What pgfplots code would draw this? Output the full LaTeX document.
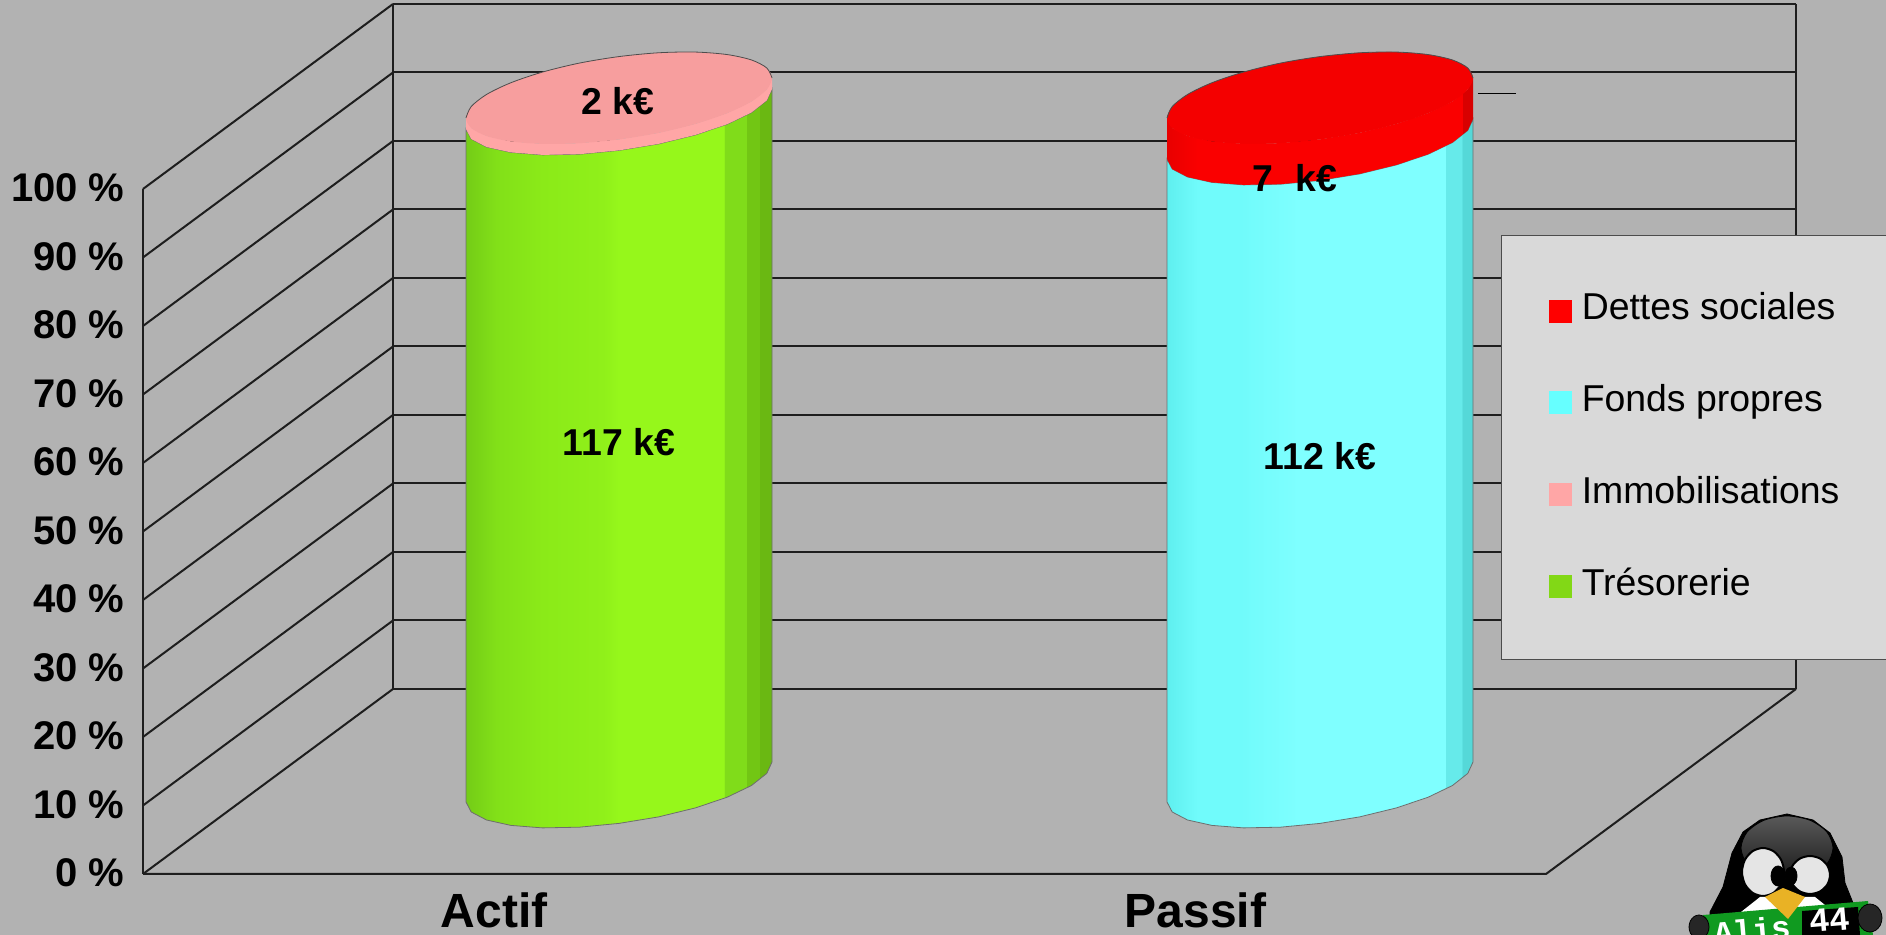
\documentclass[border=0pt]{standalone}
\usepackage{fontspec}
\setmainfont{Liberation Sans}
\setmonofont{Liberation Mono}
\usepackage{pgfplots}
\usepackage{pgfplotstable}
\pgfplotsset{compat=1.18}

\definecolor{bg}{HTML}{B2B2B2}
\definecolor{gridc}{HTML}{1E1E1E}
\definecolor{legbg}{HTML}{D9D9D9}
\definecolor{edgec}{HTML}{6E6E6E}
\definecolor{pinkside}{HTML}{FFA6A6}
\definecolor{pinktop}{HTML}{F79E9E}
\definecolor{redtop}{HTML}{F40000}
\definecolor{bakc}{HTML}{E9B225}
\definecolor{banc}{HTML}{109A20}
\definecolor{legred}{HTML}{FF0000}
\definecolor{legcyan}{HTML}{66FFFF}
\definecolor{leggreen}{HTML}{82D816}

\definecolor{ga}{HTML}{74CC17}
\definecolor{gb}{HTML}{82E018}
\definecolor{gc}{HTML}{8BEA18}
\definecolor{gd}{HTML}{90F01A}
\definecolor{ge}{HTML}{96F71B}
\definecolor{gf}{HTML}{80DC1A}
\definecolor{gg}{HTML}{72C614}
\definecolor{gh}{HTML}{6AB812}
\pgfdeclarehorizontalshading{greenbody}{100bp}{color(0bp)=(ga); color(25bp)=(ga); color(30bp)=(gb); color(37.5bp)=(gc); color(47.5bp)=(gd); color(50bp)=(ge); color(67.2bp)=(ge); color(67.2bp)=(gf); color(70.8bp)=(gf); color(70.8bp)=(gg); color(73bp)=(gg); color(73bp)=(gh); color(100bp)=(gh)}

\definecolor{ca}{HTML}{5FEFEF}
\definecolor{cb}{HTML}{70FBFB}
\definecolor{cc}{HTML}{7FFFFF}
\definecolor{cd}{HTML}{66EAEA}
\definecolor{ce}{HTML}{55D8D8}
\pgfdeclarehorizontalshading{cyanbody}{100bp}{color(0bp)=(ca); color(25bp)=(ca); color(30bp)=(cb); color(37bp)=(cb); color(47bp)=(cc); color(70.5bp)=(cc); color(70.5bp)=(cd); color(73.2bp)=(cd); color(73.2bp)=(ce); color(100bp)=(ce)}

\definecolor{ra}{HTML}{E80000}
\definecolor{rb}{HTML}{FA0000}
\definecolor{rc}{HTML}{D80000}
\pgfdeclarehorizontalshading{redbody}{100bp}{color(0bp)=(ra); color(25bp)=(ra); color(30bp)=(rb); color(73.2bp)=(rb); color(73.2bp)=(rc); color(100bp)=(rc)}

% front half of a cylinder: lower edge (lvl 0), then upper edge (lvl 1), pixel offsets
\pgfplotstableread{
ex ey lvl
153.0 -20.0 0
147.8 -8.6 0
132.5 3.5 0
108.2 15.2 0
76.5 25.9 0
39.6 34.9 0
0 41.4 0
-39.6 45.2 0
-76.5 45.9 0
-108.2 43.4 0
-132.5 38.0 0
-147.8 30.0 0
-153.0 20.0 0
-153.0 20.0 1
-147.8 30.0 1
-132.5 38.0 1
-108.2 43.4 1
-76.5 45.9 1
-39.6 45.2 1
0 41.4 1
39.6 34.9 1
76.5 25.9 1
108.2 15.2 1
132.5 3.5 1
147.8 -8.6 1
153.0 -20.0 1
}\cylside

% top surface of a cylinder
\pgfplotstableread{
ex ey
153.0 -20.0
147.8 -8.6
132.5 3.5
108.2 15.2
76.5 25.9
39.6 34.9
0 41.4
-39.6 45.2
-76.5 45.9
-108.2 43.4
-132.5 38.0
-147.8 30.0
-153.0 20.0
-147.8 8.6
-132.5 -3.5
-108.2 -15.2
-76.5 -25.9
-39.6 -34.9
0 -41.4
39.6 -45.2
76.5 -45.9
108.2 -43.4
132.5 -38.0
147.8 -30.0
}\cyltop

% back rim of the top surface
\pgfplotstableread{
ex ey
-153.0 20.0
-147.8 8.6
-132.5 -3.5
-108.2 -15.2
-76.5 -25.9
-39.6 -34.9
0 -41.4
39.6 -45.2
76.5 -45.9
108.2 -43.4
132.5 -38.0
147.8 -30.0
153.0 -20.0
}\cylrim

\pgfplotstableread{
ux uy
1 0
.866 .5
.5 .866
0 1
-.5 .866
-.866 .5
-1 0
-.866 -.5
-.5 -.866
0 -1
.5 -.866
.866 -.5
}\unitcircle

% x centre, lower y, upper y, style
\newcommand{\cylbody}[4]{\addplot[#4] table[x expr=#1+\thisrow{ex}, y expr=#2+(#3-#2)*\thisrow{lvl}+\thisrow{ey}] {\cylside} -- cycle;}
\newcommand{\cylcap}[3]{%
  \addplot[smooth cycle, #3, draw=none] table[x expr=#1+\thisrow{ex}, y expr=#2+\thisrow{ey}] {\cyltop};
  \addplot[smooth, draw=edgec!70!black, line width=0.4pt] table[x expr=#1+\thisrow{ex}, y expr=#2+\thisrow{ey}] {\cylrim};}
% logo blobs: cx, cy, rx, ry, style
\newcommand{\blob}[5]{\addplot[smooth cycle, #5] table[x expr=#1+#3*\thisrow{ux}, y expr=#2+#4*\thisrow{uy}] {\unitcircle};}

\begin{document}
\begin{tikzpicture}
\begin{axis}[
  scale only axis,
  width=943pt, height=467.5pt,
  xmin=0, xmax=1886,
  ymin=-8.905, ymax=127.59,
  y filter/.expression={(874-y)/6.85},
  axis background/.style={fill=bg},
  axis line style={draw=none},
  major tick length=0pt,
  tick style={draw=none},
  ytick={0,10,...,100},
  yticklabels={0 \%,10 \%,20 \%,30 \%,40 \%,50 \%,60 \%,70 \%,80 \%,90 \%,100 \%},
  y tick label style={font=\fontsize{20}{24}\bfseries\selectfont, anchor=east, xshift=62.5pt, yshift=0.6pt, inner xsep=0pt},
  xtick={494,1195.5},
  xticklabels={Actif,Passif},
  x tick label style={font=\fontsize{24}{28}\bfseries\selectfont, anchor=base, yshift=3.7pt, inner sep=0pt},
  every axis plot/.append style={forget plot},
  legend style={
    at={(axis cs:1501,93.3)}, anchor=north west,
    draw=black!70, fill=legbg, line width=0.6pt,
    minimum width=192.5pt, minimum height=212pt,
    font=\fontsize{18.7}{22}\selectfont,
    row sep=27.9pt, column sep=5pt, inner sep=0pt,
    nodes={draw=none, inner sep=0pt, minimum width=0pt, minimum height=0pt, text height=14pt, text depth=4pt},
  },
  legend cell align=left,
  legend image code/.code={\fill[#1, draw=none] (0pt,-6.4pt) rectangle (11.5pt,5.1pt);},
]
\addlegendimage{fill=legred}
\addlegendentry{Dettes sociales}
\addlegendimage{fill=legcyan}
\addlegendentry{Fonds propres}
\addlegendimage{fill=pinkside}
\addlegendentry{Immobilisations}
\addlegendimage{fill=leggreen}
\addlegendentry{Trésorerie}

\coordinate (pagesw) at (rel axis cs:0,0);
\coordinate (pagene) at (rel axis cs:1,1);

% back wall
\addplot[gridc, line width=1pt] coordinates {(393,689)(1796,689)};
\addplot[gridc, line width=1pt] coordinates {(393,620.5)(1796,620.5)};
\addplot[gridc, line width=1pt] coordinates {(393,552)(1796,552)};
\addplot[gridc, line width=1pt] coordinates {(393,483.5)(1796,483.5)};
\addplot[gridc, line width=1pt] coordinates {(393,415)(1796,415)};
\addplot[gridc, line width=1pt] coordinates {(393,346.5)(1796,346.5)};
\addplot[gridc, line width=1pt] coordinates {(393,278)(1796,278)};
\addplot[gridc, line width=1pt] coordinates {(393,209.5)(1796,209.5)};
\addplot[gridc, line width=1pt] coordinates {(393,141)(1796,141)};
\addplot[gridc, line width=1pt] coordinates {(393,72.5)(1796,72.5)};
\addplot[gridc, line width=1pt] coordinates {(393,4)(1796,4)};
% side wall
\addplot[gridc, line width=1pt] coordinates {(143,874)(393,689)};
\addplot[gridc, line width=1pt] coordinates {(143,805.5)(393,620.5)};
\addplot[gridc, line width=1pt] coordinates {(143,737)(393,552)};
\addplot[gridc, line width=1pt] coordinates {(143,668.5)(393,483.5)};
\addplot[gridc, line width=1pt] coordinates {(143,600)(393,415)};
\addplot[gridc, line width=1pt] coordinates {(143,531.5)(393,346.5)};
\addplot[gridc, line width=1pt] coordinates {(143,463)(393,278)};
\addplot[gridc, line width=1pt] coordinates {(143,394.5)(393,209.5)};
\addplot[gridc, line width=1pt] coordinates {(143,326)(393,141)};
\addplot[gridc, line width=1pt] coordinates {(143,257.5)(393,72.5)};
\addplot[gridc, line width=1pt] coordinates {(143,189)(393,4)};
% verticals and floor
\addplot[gridc, line width=1.3pt] coordinates {(143,189)(143,874)};
\addplot[gridc, line width=1.3pt] coordinates {(393,4)(393,689)};
\addplot[gridc, line width=1.3pt] coordinates {(1796,4)(1796,689)};
\addplot[gridc, line width=1pt] coordinates {(143,874)(1546,874)(1796,689)};

% Actif: 117 + 2
\cylbody{619}{782}{109}{shade, shading=greenbody, draw=edgec, line width=0.4pt}
\cylbody{619}{109}{98}{fill=pinkside, draw=none}
\cylcap{619}{98}{fill=pinktop}
% Passif: 112 + 7
\cylbody{1320}{782}{139}{shade, shading=cyanbody, draw=edgec, line width=0.4pt}
\cylbody{1320}{139}{98}{shade, shading=redbody, draw=none}
\cylcap{1320}{98}{fill=redtop}
\addplot[black, line width=0.5pt] coordinates {(1478,94)(1516,94)};

% value labels
\addplot[draw=none, no marks, nodes near coords, point meta=explicit symbolic,
  every node near coord/.append style={anchor=center, inner sep=0pt, font=\fontsize{18.7}{22}\bfseries\selectfont}]
  coordinates {(618,101)[2 k€] (619,442)[117 k€] (1295,178)[7\hspace{11pt}k€] (1320,456)[112 k€]};

% logo
\addplot[fill=black, draw=black] coordinates {(1710,912)(1723,887)(1732,853)(1743,832)(1760,820)(1787,814)(1813,820)(1830,833)(1842,857)(1845,883)(1853,903)(1853,935)(1710,935)} -- cycle;
\blob{1787}{848}{46}{32}{shade, top color=black!65, middle color=black!15, bottom color=black!90, draw=black}
\blob{1763}{872}{21}{24}{fill=black!10, draw=black, line width=1pt}
\blob{1810}{875}{20}{19}{fill=black!10, draw=black, line width=1pt}
\blob{1778}{876}{7}{10}{fill=black}
\blob{1791}{876}{6}{9}{fill=black}
\addplot[fill=white, draw=none] coordinates {(1741,912)(1760,897)(1815,897)(1825,905)(1825,925)(1741,925)} -- cycle;
\addplot[fill=banc, draw=none] coordinates {(1703,915)(1868,901)(1873,935)(1703,935)} -- cycle;
\addplot[fill=black, draw=none] coordinates {(1802,911)(1858,907)(1860,935)(1802,935)} -- cycle;
\addplot[fill=bakc, draw=none] coordinates {(1765,897)(1783,888)(1805,897)(1788,919)} -- cycle;
\blob{1699}{927}{10}{12}{fill=black!85}
\blob{1870}{918}{12}{14}{fill=black!85}
\addplot[draw=none, no marks, nodes near coords, point meta=explicit symbolic,
  every node near coord/.append style={anchor=center, inner sep=0pt, text=white, rotate=5, font=\fontsize{16}{18}\bfseries\ttfamily\selectfont}]
  coordinates {(1752,930)[Alis]};
\addplot[draw=none, no marks, nodes near coords, point meta=explicit symbolic,
  every node near coord/.append style={anchor=center, inner sep=0pt, text=white, rotate=5, font=\fontsize{17}{19}\bfseries\ttfamily\selectfont}]
  coordinates {(1830,920)[44]};
\end{axis}
\pgfresetboundingbox
\path[use as bounding box] (pagesw) rectangle (pagene);
\end{tikzpicture}
\end{document}
